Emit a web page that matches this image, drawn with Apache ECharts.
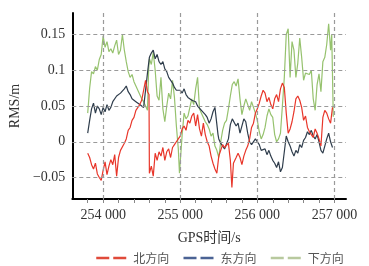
<!DOCTYPE html>
<html><head><meta charset="utf-8">
<script src="https://cdn.jsdelivr.net/npm/echarts@6/dist/echarts.min.js"></script>
<style>html,body{margin:0;padding:0;background:#fff}#c{width:369px;height:266px}</style>
</head><body><div id="c"></div>
<script>
// ---- data ----
const seriesNames = ['北方向', '东方向', '下方向'];
const xTicks = [254000, 255000, 256000, 257000];
const xTickLabels = ['254 000', '255 000', '256 000', '257 000'];
const yTicks = [-0.05, 0, 0.05, 0.1, 0.15];
const yTickLabels = ['\u22120.05', '0', '0.05', '0.1', '0.15'];

const tNorth = [253800,253825,253850,253875,253900,253925,253950,253975,254000,254025,254050,254075,254100,254125,254150,254175,254200,254225,254250,254275,254300,254325,254350,254375,254400,254425,254450,254475,254500,254525,254550,254575,254595,254600,254625,254650,254675,254700,254725,254750,254775,254800,254825,254850,254875,254900,254925,254950,254975,255000,255025,255050,255075,255100,255125,255150,255175,255200,255225,255250,255275,255300,255325,255350,255375,255400,255425,255450,255475,255500,255525,255550,255575,255600,255625,255650,255670,255690,255725,255750,255775,255800,255825,255850,255875,255900,255925,255950,255975,256000,256025,256050,256075,256100,256125,256150,256175,256200,256225,256250,256275,256300,256325,256350,256375,256400,256425,256450,256475,256500,256525,256550,256575,256600,256625,256650,256675,256700,256725,256750,256775,256800,256825,256850,256875,256900,256925,256950,256975];
const vNorth = [-0.016,-0.022,-0.032,-0.038,-0.030,-0.045,-0.050,-0.054,-0.040,-0.028,-0.046,-0.034,-0.025,-0.032,-0.018,-0.048,-0.022,-0.012,-0.010,-0.002,0.004,0.016,0.020,0.030,0.034,0.044,0.046,0.052,0.058,0.072,0.086,0.070,0.066,-0.044,-0.034,-0.048,-0.016,-0.026,-0.014,-0.020,-0.008,-0.026,-0.014,-0.010,-0.022,-0.008,-0.004,0.000,0.004,0.008,0.018,0.022,0.016,0.030,0.026,0.036,0.040,0.022,0.038,0.018,0.008,0.026,0.010,0.000,-0.006,-0.020,-0.030,-0.038,-0.044,-0.020,-0.012,-0.004,-0.008,-0.010,-0.002,-0.026,-0.064,-0.030,-0.022,-0.016,-0.022,-0.032,-0.020,-0.012,-0.006,0.004,0.020,0.026,0.040,0.046,0.054,0.064,0.072,0.068,0.056,0.062,0.052,0.046,0.060,0.066,0.056,0.074,0.082,0.076,0.040,0.012,0.018,0.028,0.042,0.060,0.064,0.058,0.048,0.030,0.036,0.020,0.014,0.010,0.006,0.018,0.012,0.004,-0.006,0.034,0.044,0.040,0.032,0.026,0.048];

const tEast = [253800,253825,253850,253875,253900,253925,253950,253975,254000,254025,254050,254075,254100,254125,254150,254175,254200,254225,254250,254275,254300,254325,254350,254375,254400,254425,254450,254475,254500,254525,254550,254575,254600,254625,254650,254675,254700,254725,254750,254775,254800,254825,254850,254875,254900,254925,254950,254975,255000,255025,255050,255075,255100,255125,255150,255175,255200,255225,255250,255275,255300,255325,255350,255375,255400,255425,255450,255475,255490,255500,255525,255550,255575,255600,255625,255650,255675,255700,255725,255750,255775,255800,255825,255850,255875,255900,255925,255950,255975,256000,256025,256050,256075,256100,256125,256150,256175,256200,256225,256250,256275,256300,256325,256350,256375,256400,256425,256450,256475,256500,256525,256550,256575,256600,256625,256650,256675,256700,256725,256750,256775,256800,256825,256850,256875,256900,256925,256950,256975];
const vEast = [0.012,0.030,0.046,0.054,0.040,0.050,0.046,0.038,0.048,0.042,0.052,0.044,0.048,0.056,0.054,0.064,0.062,0.068,0.066,0.074,0.078,0.070,0.066,0.060,0.062,0.056,0.058,0.052,0.054,0.048,0.046,0.096,0.118,0.124,0.128,0.116,0.122,0.112,0.108,0.112,0.102,0.098,0.090,0.088,0.082,0.076,0.072,0.070,0.072,0.068,0.074,0.066,0.062,0.064,0.058,0.060,0.056,0.050,0.048,0.044,0.042,0.038,0.034,0.026,0.032,0.042,0.048,0.046,0.010,0.004,-0.002,-0.006,-0.010,-0.008,0.004,0.024,0.032,0.030,0.022,0.026,0.012,0.014,0.032,0.028,0.012,0.000,-0.004,-0.006,0.004,0.006,-0.004,-0.012,-0.014,-0.010,-0.018,-0.012,-0.020,-0.026,-0.030,-0.036,-0.028,-0.042,-0.036,-0.034,0.008,0.000,-0.006,-0.014,-0.020,-0.012,-0.016,-0.004,-0.008,0.002,0.006,0.014,0.010,0.016,0.008,0.004,0.010,0.000,-0.012,-0.016,-0.006,0.004,0.012,0.000,-0.008];

const tDown = [253800,253825,253850,253875,253900,253925,253950,253975,254000,254025,254050,254075,254100,254125,254150,254175,254200,254225,254250,254275,254300,254325,254350,254375,254400,254425,254450,254475,254500,254525,254550,254575,254590,254600,254625,254650,254675,254700,254725,254750,254775,254800,254825,254850,254875,254900,254925,254950,254975,254990,255025,255050,255075,255100,255125,255150,255175,255200,255225,255250,255275,255300,255325,255350,255375,255400,255425,255450,255475,255500,255525,255550,255575,255600,255625,255650,255675,255700,255725,255750,255775,255800,255825,255850,255875,255900,255925,255950,255975,256000,256025,256050,256075,256100,256125,256150,256175,256200,256225,256250,256275,256300,256325,256350,256375,256400,256425,256450,256475,256500,256525,256550,256575,256600,256625,256650,256675,256700,256725,256750,256775,256800,256825,256850,256875,256900,256925,256950,256965,256985];
const vDown = [0.040,0.075,0.098,0.095,0.105,0.100,0.115,0.122,0.148,0.132,0.140,0.126,0.130,0.124,0.134,0.142,0.122,0.128,0.150,0.128,0.112,0.098,0.090,0.094,0.084,0.078,0.072,0.066,0.060,0.056,0.050,0.044,0.100,0.116,0.108,0.125,0.100,0.064,0.058,0.090,0.046,0.028,0.050,0.068,0.060,0.086,0.062,0.022,-0.010,-0.044,0.010,0.040,0.032,0.036,0.048,0.060,0.052,0.074,0.090,0.046,0.040,0.034,0.028,0.024,0.018,0.008,0.012,-0.006,-0.012,-0.022,0.000,0.016,0.026,0.030,0.046,0.064,0.080,0.084,0.078,0.088,0.060,0.038,0.050,0.060,0.052,0.044,0.056,0.048,0.040,0.030,0.014,0.004,0.010,0.020,0.036,0.046,0.038,0.034,0.010,0.000,0.004,0.012,0.050,0.090,0.150,0.158,0.090,0.140,0.128,0.090,0.110,0.145,0.118,0.086,0.096,0.098,0.094,0.100,0.060,0.044,0.080,0.095,0.070,0.112,0.118,0.136,0.165,0.128,0.150,0.035];

// ---- chart ----
const zip = (t, v) => t.map((x, i) => [x, v[i]]);
const serif = "'Liberation Serif', 'Noto Sans CJK SC', serif";
const lineColors = ['#e8362a', '#2f3d4c', '#96c26e'];
const legendColors = ['#e04a3a', '#4b6394', '#b8c99e'];
const gridLine = {type: [4, 3], color: '#9a9a9a', width: 1.2};

const chart = echarts.init(document.getElementById('c'), null, {renderer: 'canvas'});
chart.setOption({
  animation: false,
  backgroundColor: '#fff',
  grid: {left: 62, right: 23, top: 13, bottom: 67},
  legend: {
    top: 247, left: 90, itemGap: 13, itemWidth: 32, itemHeight: 10,
    textStyle: {fontFamily: "'Noto Sans CJK SC', sans-serif", fontSize: 12, color: '#555'},
    data: seriesNames.map((n, i) => ({
      name: n,
      itemStyle: {color: legendColors[i], opacity: 0},
      lineStyle: {color: legendColors[i], width: 2.5, type: [13, 4], opacity: 1}
    }))
  },
  xAxis: {
    type: 'value', min: 253600, max: 257150, interval: 200,
    name: 'GPS时间/s', nameLocation: 'middle', nameGap: 32,
    nameTextStyle: {fontFamily: serif, fontSize: 14, color: '#333'},
    axisLine: {show: true, onZero: false, lineStyle: {color: '#000', width: 2}},
    axisTick: {show: true, length: 4, lineStyle: {color: '#888', width: 1}},
    splitLine: {show: false},
    axisLabel: {
      fontFamily: serif, fontSize: 14, color: '#333', margin: 9,
      showMinLabel: false, showMaxLabel: false,
      formatter: v => { const i = xTicks.indexOf(Math.round(v)); return i >= 0 ? xTickLabels[i] : ''; }
    }
  },
  yAxis: {
    type: 'value', min: -0.08, max: 0.18,
    name: 'RMS/m', nameLocation: 'middle', nameGap: 40, nameRotate: 90,
    nameTextStyle: {fontFamily: serif, fontSize: 14, color: '#333'},
    axisLine: {show: true, onZero: false, lineStyle: {color: '#000', width: 2}},
    axisTick: {show: false},
    splitLine: {show: false},
    axisLabel: {
      fontFamily: serif, fontSize: 14, color: '#333', margin: 7,
      formatter: v => { const i = yTicks.findIndex(t => Math.abs(t - v) < 1e-6); return i >= 0 ? yTickLabels[i] : ''; }
    }
  },
  series: [
    {name: 'grid', type: 'line', data: [], z: 1, silent: true,
     markLine: {silent: true, symbol: ['none', 'none'], label: {show: false}, lineStyle: gridLine, animation: false,
       data: xTicks.map(v => ({xAxis: v})).concat(yTicks.map(v => ({yAxis: v})))}},
    {name: seriesNames[0], type: 'line', data: zip(tNorth, vNorth), symbol: 'none', z: 4,
     lineStyle: {color: lineColors[0], width: 1.2}, itemStyle: {color: lineColors[0]}},
    {name: seriesNames[1], type: 'line', data: zip(tEast, vEast), symbol: 'none', z: 3,
     lineStyle: {color: lineColors[1], width: 1.2}, itemStyle: {color: lineColors[1]}},
    {name: seriesNames[2], type: 'line', data: zip(tDown, vDown), symbol: 'none', z: 2,
     lineStyle: {color: lineColors[2], width: 1.2}, itemStyle: {color: lineColors[2]}}
  ]
});
</script></body></html>
